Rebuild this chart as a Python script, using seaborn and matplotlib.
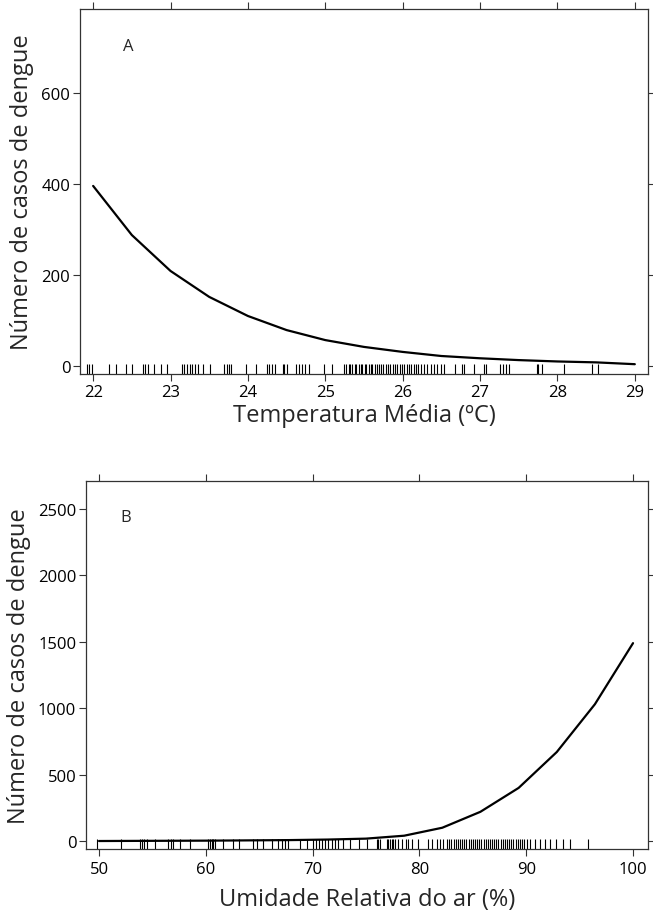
import numpy as np
import pandas as pd
import matplotlib
matplotlib.use("Agg")
import matplotlib.pyplot as plt
import seaborn as sns

# Painel A: temperatura media vs casos de dengue (curva ajustada)
temp_grid = [22.0, 22.5, 23.0, 23.5, 24.0, 24.5, 25.0, 25.5, 26.0, 26.5, 27.0, 27.5, 28.0, 28.5, 29.0]
temp_casos = [396, 288, 209, 152, 110, 79, 57, 42, 31, 22, 17, 13, 10, 8, 4]

# observacoes de temperatura (rug)
temp_obs = [21.92, 21.94, 21.98, 22.20, 22.29, 22.42, 22.50, 22.64, 22.67, 22.71,
            22.79, 22.88, 22.95, 23.15, 23.17, 23.21, 23.25, 23.28, 23.32, 23.35,
            23.42, 23.51, 23.69, 23.73, 23.75, 23.78, 23.98, 24.10, 24.25, 24.27,
            24.31, 24.35, 24.45, 24.47, 24.51, 24.62, 24.66, 24.70, 24.74, 24.79,
            24.98, 25.09, 25.24, 25.27, 25.30, 25.32, 25.35, 25.38, 25.40, 25.43,
            25.46, 25.48, 25.51, 25.53, 25.56, 25.59, 25.61, 25.64, 25.67, 25.70,
            25.72, 25.75, 25.78, 25.81, 25.84, 25.87, 25.90, 25.93, 25.96, 25.99,
            26.02, 26.05, 26.08, 26.11, 26.14, 26.17, 26.20, 26.24, 26.28, 26.32,
            26.36, 26.40, 26.45, 26.50, 26.53, 26.67, 26.77, 26.79, 26.92, 27.05,
            27.08, 27.26, 27.30, 27.34, 27.38, 27.73, 27.75, 27.80, 28.09, 28.45,
            28.53]

# Painel B: umidade relativa vs casos de dengue
umid_grid = [50.0, 53.57, 57.14, 60.71, 64.29, 67.86, 71.43, 75.0, 78.57, 82.14,
             85.71, 89.29, 92.86, 96.43, 100.0]
umid_casos = [0, 1, 2, 3, 5, 7, 11, 18, 40, 100, 220, 400, 670, 1030, 1490]

umid_obs = [49.8, 52.1, 53.8, 54.0, 54.2, 54.5, 55.2, 56.5, 56.7, 56.9,
            57.6, 58.5, 60.2, 60.4, 60.6, 60.7, 60.9, 61.6, 62.5, 63.1,
            64.4, 64.8, 65.4, 66.2, 66.8, 67.1, 67.4, 67.7, 68.8, 69.5,
            70.0, 70.3, 70.6, 70.9, 71.2, 71.4, 71.8, 72.1, 72.4, 72.8,
            73.5, 74.3, 75.1, 76.0, 76.1, 76.3, 77.0, 77.1, 77.2, 77.4,
            77.5, 77.7, 78.0, 78.4, 78.7, 78.9, 79.3, 79.9, 80.8, 81.2,
            81.6, 81.9, 82.2, 82.6, 82.8, 83.0, 83.2, 83.4, 83.6, 83.8,
            84.0, 84.2, 84.4, 84.6, 84.8, 85.0, 85.2, 85.4, 85.6, 85.8,
            86.0, 86.2, 86.4, 86.6, 86.8, 87.0, 87.2, 87.4, 87.6, 87.8,
            88.0, 88.2, 88.4, 88.6, 88.8, 89.0, 89.2, 89.4, 89.6, 89.8,
            90.1, 90.4, 90.8, 91.3, 91.8, 92.2, 92.8, 93.4, 94.1, 95.8]

sns.set_style("ticks")
plt.rcParams['font.family'] = ['Open Sans', 'DejaVu Sans']

fig = plt.figure(figsize=(6.53, 9.12), dpi=100)
ax_a = fig.add_axes([0.1225, 0.5888, 0.8698, 0.4002])
ax_b = fig.add_axes([0.1317, 0.0680, 0.8606, 0.4035])

df_a = pd.DataFrame({'temp': temp_grid, 'casos': temp_casos})
df_b = pd.DataFrame({'umid': umid_grid, 'casos': umid_casos})

sns.lineplot(data=df_a, x='temp', y='casos', ax=ax_a, color='black', linewidth=1.6)
sns.rugplot(x=temp_obs, ax=ax_a, height=0.027, color='black', linewidth=0.8)

sns.lineplot(data=df_b, x='umid', y='casos', ax=ax_b, color='black', linewidth=1.6)
sns.rugplot(x=umid_obs, ax=ax_b, height=0.027, color='black', linewidth=0.8)

ax_a.set_xlim(21.83, 29.17)
ax_a.set_ylim(-17.6, 785)
ax_a.set_xticks(range(22, 30))
ax_a.set_yticks([0, 200, 400, 600])
ax_a.set_xlabel('Temperatura Média (ºC)', fontsize=17, labelpad=2.5)
ax_a.text(0.0845, 0.899, 'A', transform=ax_a.transAxes, fontsize=12, ha='center', va='center')

ax_b.set_xlim(48.78, 101.4)
ax_b.set_ylim(-60, 2711)
ax_b.set_xticks([50, 60, 70, 80, 90, 100])
ax_b.set_yticks([0, 500, 1000, 1500, 2000, 2500])
ax_b.set_xlabel('Umidade Relativa do ar (%)', fontsize=17, labelpad=7)
ax_b.text(0.071, 0.902, 'B', transform=ax_b.transAxes, fontsize=12, ha='center', va='center')

for ax in (ax_a, ax_b):
    ax.set_ylabel('Número de casos de dengue', fontsize=17, labelpad=5)
    for sp in ax.spines.values():
        sp.set_visible(True)
        sp.set_color('#333333')
        sp.set_linewidth(0.9)
    ax.tick_params(axis='both', which='both', direction='out', length=5, width=0.8,
                   color='#333333', labelsize=12, labelcolor='black', top=True, right=True,
                   labeltop=False, labelright=False, pad=2)

ax_b.tick_params(axis='x', pad=4)

fig.savefig('out.png', dpi=100)
